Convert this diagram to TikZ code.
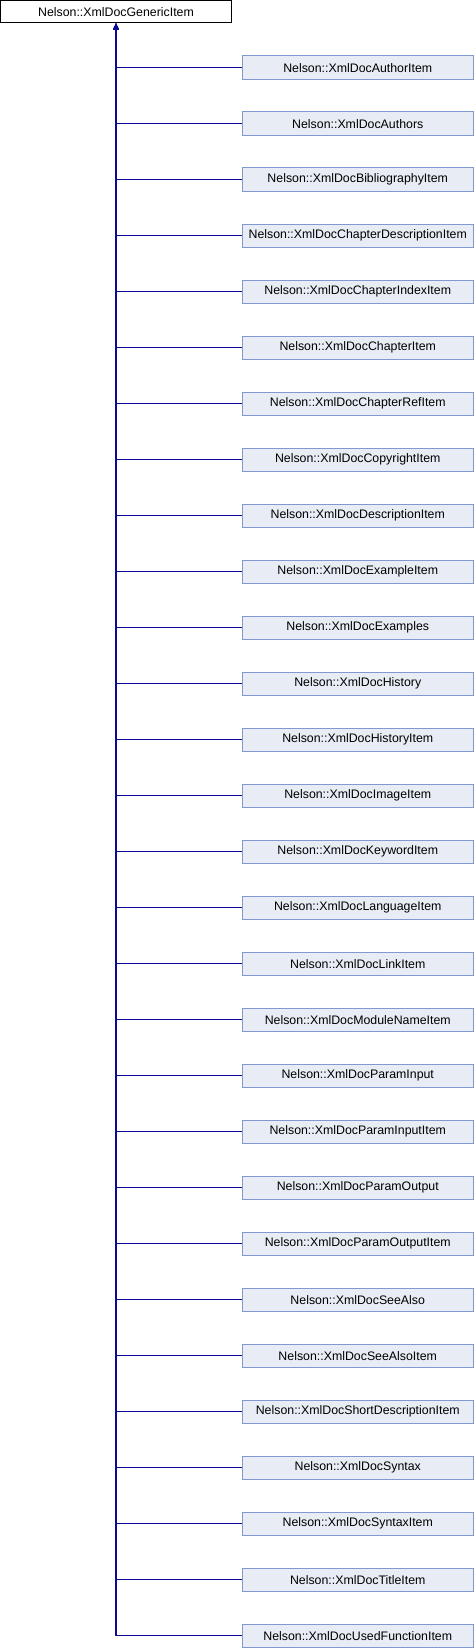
\documentclass[tikz,border=0pt]{standalone}
\usepackage{fontspec}
\setmainfont{Liberation Sans}
\usetikzlibrary{arrows.meta}
\definecolor{boxfill}{RGB}{232,236,245}
\definecolor{boxline}{RGB}{130,152,210}
\definecolor{edgeblue}{RGB}{10,10,150}
\tikzset{
  cls/.style={draw=boxline, fill=boxfill, line width=1pt, minimum width=231.5pt, minimum height=23.3pt, inner sep=0pt, font=\fontsize{12.35}{14}\selectfont},
  rootcls/.style={draw=black, fill=white, line width=1pt, minimum width=230.5pt, minimum height=22.5pt, inner sep=0pt, font=\fontsize{12.35}{14}\selectfont},
  edge/.style={draw=edgeblue, line width=1.3pt, -{Triangle[length=6pt,width=5pt]}}
}
\begin{document}
\begin{tikzpicture}[x=1pt,y=-1pt]
\useasboundingbox (0,0) rectangle (474,1648);
\node[rootcls] (root) at (116,11.75) {Nelson::XmlDocGenericItem};
\foreach \nm [count=\i from 0] in {AuthorItem,Authors,BibliographyItem,ChapterDescriptionItem,ChapterIndexItem,ChapterItem,ChapterRefItem,CopyrightItem,DescriptionItem,ExampleItem,Examples,History,HistoryItem,ImageItem,KeywordItem,LanguageItem,LinkItem,ModuleNameItem,ParamInput,ParamInputItem,ParamOutput,ParamOutputItem,SeeAlso,SeeAlsoItem,ShortDescriptionItem,Syntax,SyntaxItem,TitleItem,UsedFunctionItem}{
  \node[cls] (c\i) at (357.75,{67.65+56*\i}) {Nelson::XmlDoc\nm};
  \draw[edge] (c\i.west) -| (root.south);
}
\end{tikzpicture}
\end{document}
